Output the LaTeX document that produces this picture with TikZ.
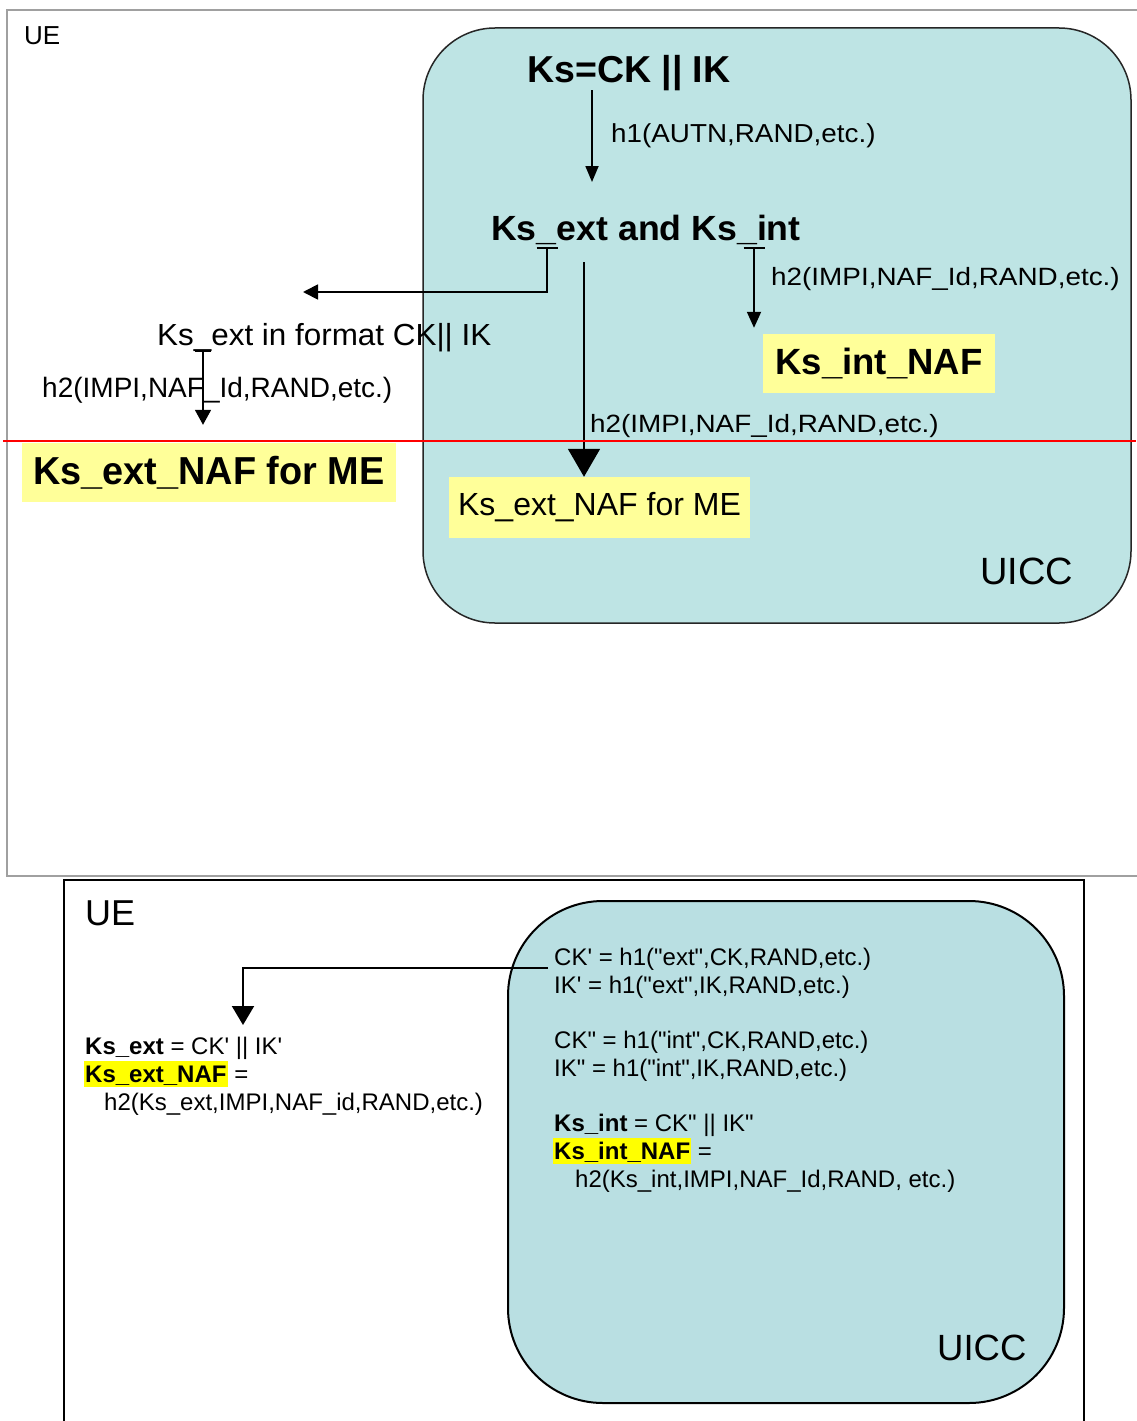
\documentclass[tikz,border=0pt]{standalone}
\usepackage{fontspec}
\setmainfont{Liberation Sans}[Ligatures=TeXOff]
\usepackage{graphicx}
\usetikzlibrary{arrows.meta,calc}
\definecolor{uiccA}{RGB}{190,228,228}
\definecolor{uiccB}{RGB}{185,223,226}
\definecolor{pale}{RGB}{255,255,153}
\definecolor{hly}{RGB}{255,255,0}
\definecolor{framegray}{RGB}{160,160,160}
\newcommand\fs[1]{\fontsize{#1}{#1}\selectfont}
\newcommand\hs[2]{\scalebox{#1}[1]{#2}}
\newcommand\sq{\char"27\relax}
\newcommand\dq{\char"22\relax}
\newcommand\hlbox[1]{{\setlength{\fboxsep}{0pt}\colorbox{hly}{\rule[-5pt]{0pt}{26pt}\kern1pt\textbf{#1}\kern1pt}}}
\begin{document}
\begin{tikzpicture}[x=1pt,y=-1pt,
  txt/.style={inner sep=0pt, anchor=base west},
  ybox/.style={fill=pale, inner sep=0pt},
  conn/.style={line width=1.8pt, black},
  conn2/.style={line width=2pt, black},
  line/.style={font=\fs{24}}]
\useasboundingbox (0,0) rectangle (1136,1421);
\fill[white] (0,0) rectangle (1136,1421);

% ---------- top panel ----------
\draw[framegray, line width=2pt] (1140,10) -- (7,10) -- (7,876) -- (1140,876);
\node[draw=black!85, line width=1.5pt, fill=uiccA, rounded corners=72pt,
      minimum width=708pt, minimum height=595pt, inner sep=0pt] (uicc1) at (777,325.5) {};

\node[txt, font=\fs{26}] (ueA) at (24,45) {UE};
\node[txt, font=\bfseries\fs{37.5}] (ks) at (527,82) {Ks=CK || IK};
\node[txt, font=\fs{26}] (h1) at (611,142) {\hs{1.07}{h1(AUTN,RAND,etc.)}};
\node[txt, font=\bfseries\fs{35}] (ksext) at (491,240) {\hs{1.02}{Ks\_ext and Ks\_int}};
\node[txt, font=\fs{25}] (h2a) at (771,285) {\hs{1.115}{h2(IMPI,NAF\_Id,RAND,etc.)}};
\node[ybox, minimum width=232pt, minimum height=59pt, font=\bfseries\fs{36.5}] (ksint) at (879,363.5) {Ks\_int\_NAF};
\node[txt, font=\fs{25}] (h2b) at (590,432) {\hs{1.115}{h2(IMPI,NAF\_Id,RAND,etc.)}};
\node[ybox, minimum width=301pt, minimum height=61pt, font=\fs{32}] (ksme) at (599.5,507.5) {Ks\_ext\_NAF for ME};
\node[txt, font=\fs{38}] (uiccA) at (980,584) {UICC};

\node[txt, font=\fs{30.5}] (fmt) at (157,345) {\hs{1.03}{Ks\_ext in format CK|| IK}};
\node[txt, font=\fs{28}] (h2c) at (42,397) {h2(IMPI,NAF\_Id,RAND,etc.)};
\node[ybox, minimum width=374pt, minimum height=59pt, font=\bfseries\fs{39}] (ksleft) at (209,472.5) {\hs{0.97}{Ks\_ext\_NAF for ME}};

\draw[conn, -{Triangle[length=16pt,width=13pt]}] ($(ks.base west)+(65,8)$) -- ($(ksext.base west)+(101,-58)$);
\draw[conn, {Bar[width=21pt]}-{Triangle[length=15pt,width=15pt]}] ($(ksext.base west)+(56,7)$) |- ($(fmt.base west)+(146,-53)$);
\draw[conn, -{Triangle[length=28pt,width=32pt]}] ($(ksext.base west)+(93,22)$) -- ($(ksme.north)+(-15.5,0)$);
\draw[conn, {Bar[width=21pt]}-{Triangle[length=16pt,width=14pt]}] ($(ksext.base west)+(263,7)$) -- ($(ksint.north)+(-125,-6)$);
\draw[conn, {Bar[width=16pt]}-{Triangle[length=15pt,width=16pt]}] ($(fmt.base west)+(46,5)$) -- ($(ksleft.north)+(-6,-18)$);

\draw[red, line width=1.5pt] (3,441) -- (1136,441);

% ---------- bottom panel ----------
\draw[black, line width=1.5pt] (64,1425) -- (64,880) -- (1084,880) -- (1084,1425);
\node[draw=black, line width=2pt, fill=uiccB, rounded corners=95pt,
      minimum width=556pt, minimum height=502pt, inner sep=0pt] (uicc2) at (786,1152) {};
\node[txt, font=\fs{36}] (ueB) at (85,925) {UE};
\node[txt, font=\fs{36.5}] (uiccB) at (937,1360) {UICC};

\node[txt, line] (ck1) at (554,965) {CK\sq{} = h1(\dq ext\dq,CK,RAND,etc.)};
\node[txt, line] (ik1) at (554,993) {IK\sq{} = h1(\dq ext\dq,IK,RAND,etc.)};
\node[txt, line] (ck2) at (554,1048) {CK\dq{} = h1(\dq int\dq,CK,RAND,etc.)};
\node[txt, line] (ik2) at (554,1076) {IK\dq{} = h1(\dq int\dq,IK,RAND,etc.)};
\node[txt, line] (kint) at (554,1131) {\textbf{Ks\_int} = CK\dq{} || IK\dq};
\node[txt, line] (kintnaf) at (553,1159) {\hlbox{Ks\_int\_NAF} =};
\node[txt, line] (h2int) at (575,1187) {h2(Ks\_int,IMPI,NAF\_Id,RAND, etc.)};

\node[txt, line] (kse) at (85,1054) {\textbf{Ks\_ext} = CK\sq{} || IK\sq};
\node[txt, line] (ksenaf) at (84,1082) {\hlbox{Ks\_ext\_NAF} =};
\node[txt, line] (h2ext) at (104,1110) {h2(Ks\_ext,IMPI,NAF\_id,RAND,etc.)};

\draw[conn2, -{Triangle[length=19pt,width=22pt]}] ($(ck1.base west)+(-6,3)$) -| ($(kse.base west)+(158,-29)$);
\end{tikzpicture}
\end{document}
